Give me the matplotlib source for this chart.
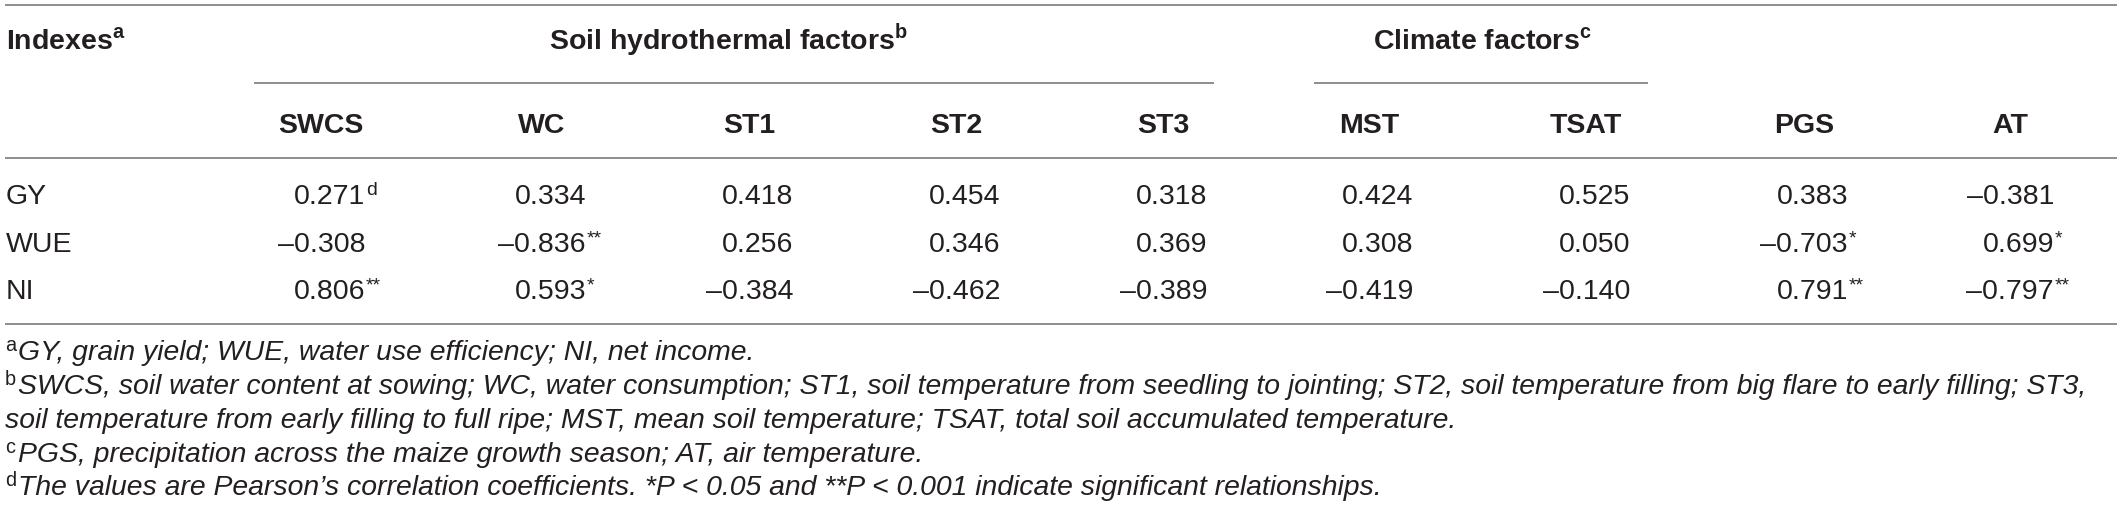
import matplotlib
matplotlib.use("Agg")
import matplotlib.pyplot as plt

plt.rcParams['font.family'] = ['Liberation Sans', 'DejaVu Sans']
plt.rcParams['mathtext.fontset'] = 'custom'
plt.rcParams['mathtext.rm'] = 'Liberation Sans'

# Table content
row_labels = ["GY", "WUE", "NI"]
columns = ["SWCS", "WC", "ST1", "ST2", "ST3", "MST", "TSAT", "PGS", "AT"]
group_labels = ["Soil hydrothermal factors", "Climate factors"]
group_marks = ["b", "c"]

gy = [0.271, 0.334, 0.418, 0.454, 0.318, 0.424, 0.525, 0.383, -0.381]
wue = [-0.308, -0.836, 0.256, 0.346, 0.369, 0.308, 0.050, -0.703, 0.699]
ni = [0.806, 0.593, -0.384, -0.462, -0.389, -0.419, -0.140, 0.791, -0.797]

gy_sig = ["d", "", "", "", "", "", "", "", ""]
wue_sig = ["", "**", "", "", "", "", "", "*", "*"]
ni_sig = ["**", "*", "", "", "", "", "", "**", "**"]

footnotes = [
    ("a", "GY, grain yield; WUE, water use efficiency; NI, net income."),
    ("b", "SWCS, soil water content at sowing; WC, water consumption; ST1, soil temperature from seedling to jointing; "
          "ST2, soil temperature from big flare to early filling; ST3,"),
    ("", "soil temperature from early filling to full ripe; MST, mean soil temperature; TSAT, total soil accumulated temperature."),
    ("c", "PGS, precipitation across the maize growth season; AT, air temperature."),
    ("d", "The values are Pearson\u2019s correlation coefficients. *P < 0.05 and **P < 0.001 indicate significant relationships."),
]

# layout (pixel coordinates)
W, H = 2117, 523
col_right = [365, 586, 793, 1000, 1207, 1413, 1630, 1848, 2054]
head_shift = 44
row_base = [204, 252, 299]
foot_base = [360, 394, 428, 462, 495]
text_col = "#231f20"
line_col = "#7a7a7a"
fs = 20.5
fs_head = 20.5
fs_foot = 20.4

fig = plt.figure(figsize=(W / 100, H / 100), dpi=100)
ax = fig.add_axes([0, 0, 1, 1])
ax.set_xlim(0, W)
ax.set_ylim(H, 0)
ax.axis("off")

# rules
for y in [5, 158, 324]:
    ax.plot([5, W], [y, y], color=line_col, lw=1.2, solid_capstyle="butt")
ax.plot([254, 1214], [83, 83], color=line_col, lw=1.2, solid_capstyle="butt")
ax.plot([1314, 1648], [83, 83], color=line_col, lw=1.2, solid_capstyle="butt")

# group headers
ax.text(6, 50, r"Indexes$^{\mathregular{a}}$", fontsize=fs_head, fontweight="bold",
        color=text_col, ha="left", va="baseline")
for label, mark, xc in zip(group_labels, group_marks, [728, 1482]):
    ax.text(xc, 50, label + r"$^{\mathregular{" + mark + "}}$", fontsize=fs_head,
            fontweight="bold", color=text_col, ha="center", va="baseline")

# column headers
for name, xr in zip(columns, col_right):
    ax.text(xr - head_shift, 133, name, fontsize=fs_head, fontweight="bold",
            color=text_col, ha="center", va="baseline")


def fmt(v):
    s = f"{abs(v):.3f}"
    return ("\u2013" + s) if v < 0 else s


rows = [(gy, gy_sig), (wue, wue_sig), (ni, ni_sig)]
for label, (vals, sigs), yb in zip(row_labels, rows, row_base):
    ax.text(6, yb, label, fontsize=fs, color=text_col, ha="left", va="baseline")
    for v, sg, xr in zip(vals, sigs, col_right):
        ax.text(xr, yb, fmt(v), fontsize=fs, color=text_col, ha="right", va="baseline")
        if sg:
            ax.text(xr + 1, yb - 9, sg, fontsize=fs * 0.68, color=text_col,
                    ha="left", va="baseline")

# footnotes
for (mark, txt), yb in zip(footnotes, foot_base):
    if mark:
        ax.text(5, yb - 9, mark, fontsize=fs_foot * 0.7, color=text_col, ha="left", va="baseline")
        ax.text(18, yb, txt, fontsize=fs_foot, style="italic", color=text_col,
                ha="left", va="baseline")
    else:
        ax.text(5, yb, txt, fontsize=fs_foot, style="italic", color=text_col,
                ha="left", va="baseline")

fig.savefig("out.png", dpi=100)
